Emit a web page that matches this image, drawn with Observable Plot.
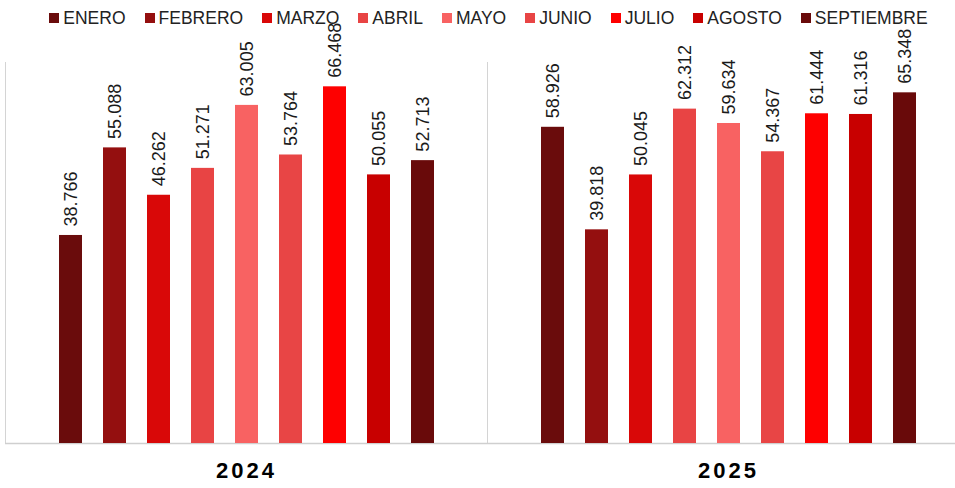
<!DOCTYPE html>
<html>
<head>
<meta charset="utf-8">
<script src="https://cdn.jsdelivr.net/npm/d3@7"></script>
<script src="https://cdn.jsdelivr.net/npm/@observablehq/plot@0.6"></script>
<style>
  html, body { margin: 0; padding: 0; background: #fff; }
  #wrap { width: 955px; height: 488px; overflow: hidden; position: relative; font-family: "Liberation Sans", Arial, sans-serif; }
  #legend { height: 36px; display: flex; align-items: center; justify-content: center; gap: 19px; padding-left: 22px; box-sizing: border-box; width: 955px; font-size: 17.5px; color: #222; position: relative; z-index: 0; }
  #legend .item { display: flex; align-items: center; white-space: nowrap; }
  #legend .sw { width: 10px; height: 10px; margin-right: 4px; display: inline-block; }
  #chart { width: 970px; }
  #chart svg { overflow: visible; position: relative; z-index: 1; background: transparent !important; max-width: none !important; }
</style>
</head>
<body>
<div id="wrap">
  <div id="legend"></div>
  <div id="chart"></div>
</div>
<script>
const months = ["ENERO", "FEBRERO", "MARZO", "ABRIL", "MAYO", "JUNIO", "JULIO", "AGOSTO", "SEPTIEMBRE"];
const years = ["2024", "2025"];
const values2024 = [38.766, 55.088, 46.262, 51.271, 63.005, 53.764, 66.468, 50.055, 52.713];
const values2025 = [58.926, 39.818, 50.045, 62.312, 59.634, 54.367, 61.444, 61.316, 65.348];
const colors = ["#6a0c0c", "#940f0f", "#d90808", "#e84444", "#f86262", "#e84545", "#fe0000", "#c80000", "#690a0a"];

const data = [
  ...months.map((m, i) => ({year: "2024", month: m, value: values2024[i]})),
  ...months.map((m, i) => ({year: "2025", month: m, value: values2025[i]}))
];

// Legend
const legend = document.getElementById("legend");
months.forEach((m, i) => {
  const it = document.createElement("div");
  it.className = "item";
  const sw = document.createElement("span");
  sw.className = "sw";
  sw.style.background = colors[i];
  const tx = document.createElement("span");
  tx.textContent = m;
  it.appendChild(sw);
  it.appendChild(tx);
  legend.appendChild(it);
});

const fmt = d3.format(".3f");

const chart = Plot.plot({
  width: 970,
  height: 452,
  marginLeft: 5,
  marginRight: 1,
  marginTop: 26,
  marginBottom: 45,
  style: {background: "transparent", overflow: "visible", maxWidth: "none"},
  fx: {domain: years, padding: 0, label: null},
  x: {domain: months, paddingInner: 0.48, paddingOuter: 1.18, axis: null},
  y: {domain: [0, 71], axis: null},
  color: {domain: months, range: colors},
  marks: [
    Plot.frame({anchor: "left", stroke: "#d4d4d4", strokeOpacity: 1}),
    Plot.ruleY([0], {stroke: "#cfcfcf", strokeWidth: 1.5}),
    Plot.barY(data, {fx: "year", x: "month", y: "value", fill: "month"}),
    Plot.text(data, {
      fx: "year", x: "month", y: "value",
      text: d => fmt(d.value),
      rotate: -90, textAnchor: "start", dy: -9,
      fontSize: 18, fill: "#1a1a1a",
      fontFamily: "Liberation Sans, Arial, sans-serif"
    }),
    Plot.axisFx({
      anchor: "bottom", tickSize: 0, tickPadding: 19, label: null,
      fontSize: 22, fontWeight: "bold", fill: "#000",
      fontFamily: "Liberation Sans Narrow, Liberation Sans, sans-serif"
    })
  ]
});
chart.querySelectorAll("g[aria-label='fx-axis tick label'] text").forEach(t => t.setAttribute("letter-spacing", "3"));
document.getElementById("chart").appendChild(chart);
</script>
</body>
</html>
